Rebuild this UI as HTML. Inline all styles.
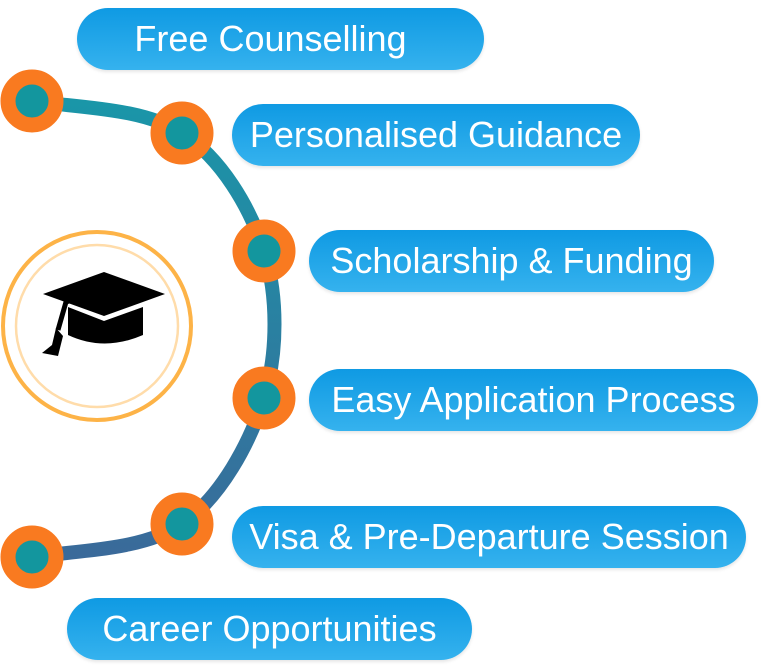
<!DOCTYPE html>
<html><head><style>
body{margin:0;width:768px;height:665px;background:#fff;position:relative;overflow:hidden;font-family:"Liberation Sans",sans-serif}
.p{position:absolute;height:62px;border-radius:31px;background:linear-gradient(180deg,#0f9ae3,#35b2ee);color:#fff;font-size:36px;line-height:62px;text-align:center;box-shadow:0 2px 3px rgba(0,0,0,.1);white-space:nowrap}
</style></head><body>
<svg width="768" height="665" style="position:absolute;left:0;top:0">
<defs><linearGradient id="g" x1="0" y1="0" x2="0" y2="1"><stop offset="0" stop-color="#1a96a8"/><stop offset="1" stop-color="#3a6a9a"/></linearGradient></defs>
<path d="M32 101 C82 108 143 108 182 133 C221 158 250 207 264 251 C278 295 278 353 264 398 C250 443 221 497 182 524 C143 550 82 550 32 557" fill="none" stroke="url(#g)" stroke-width="14"/>
<g fill="#13969e" stroke="#f97a20" stroke-width="15">
<circle cx="32" cy="101" r="24"/><circle cx="182" cy="133" r="24"/><circle cx="264" cy="251" r="24"/>
<circle cx="264" cy="398" r="24"/><circle cx="182" cy="524" r="24"/><circle cx="32" cy="557" r="24"/>
</g>
<circle cx="97" cy="326" r="94" fill="none" stroke="#fdb347" stroke-width="4"/>
<circle cx="97" cy="326" r="81" fill="none" stroke="#ffdcaa" stroke-width="2.5"/>
<path d="M43 294 L104 272 L165 294 L104 316 Z" fill="#000"/>
<path d="M68 307 L68 335 Q104 352 143 335 L143 307 L104 321 Z" fill="#000"/>
<path d="M104 290 L66 302 L58 330" stroke="#000" stroke-width="5" fill="none"/>
<path d="M56 328 L52 345 L42 353 L58 356 L63 336 Z" fill="#000"/>
</svg>
<div class="p" style="left:77px;top:8px;width:407px;text-indent:-20px">Free Counselling</div>
<div class="p" style="left:232px;top:104px;width:408px">Personalised Guidance</div>
<div class="p" style="left:309px;top:230px;width:405px">Scholarship &amp; Funding</div>
<div class="p" style="left:309px;top:369px;width:449px">Easy Application Process</div>
<div class="p" style="left:232px;top:506px;width:514px">Visa &amp; Pre-Departure Session</div>
<div class="p" style="left:67px;top:598px;width:405px">Career Opportunities</div>
</body></html>
